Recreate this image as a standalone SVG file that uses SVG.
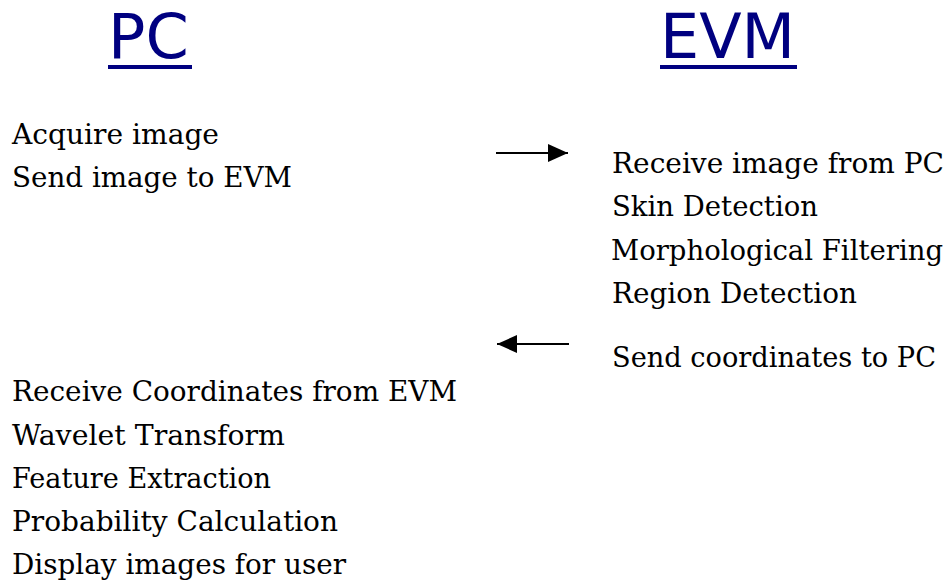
<svg xmlns="http://www.w3.org/2000/svg" width="951" height="582" viewBox="0 0 951 582">
  <style>
    .title { font-family: "DejaVu Sans", Verdana, sans-serif; font-size: 62px; fill: #000080; }
    .uline { fill: #000080; }
    .item { font-family: "DejaVu Serif", "Liberation Serif", serif; font-size: 28.5px; fill: #000000; }
    .conn { stroke: #000000; stroke-width: 2; fill: none; }
  </style>
  <defs>
    <marker id="arrow" viewBox="0 0 20 18" refX="20" refY="9" markerWidth="20" markerHeight="18" markerUnits="userSpaceOnUse" orient="auto">
      <path d="M0,0 L20,9 L0,18 Z" fill="#000000"/>
    </marker>
  </defs>
  <rect width="951" height="582" fill="#ffffff"/>

  <g id="pc-title">
    <text class="title" x="108" y="58">PC</text>
    <rect class="uline" x="108" y="65" width="84" height="4"/>
  </g>
  <g id="evm-title">
    <text class="title" x="660" y="58">EVM</text>
    <rect class="uline" x="660" y="65" width="137" height="4"/>
  </g>

  <g id="pc-send">
    <text class="item" x="12" y="144" textLength="207" lengthAdjust="spacingAndGlyphs">Acquire image</text>
    <text class="item" x="12" y="187" textLength="280" lengthAdjust="spacingAndGlyphs">Send image to EVM</text>
  </g>

  <g id="evm-process">
    <text class="item" x="612" y="173" textLength="332" lengthAdjust="spacingAndGlyphs">Receive image from PC</text>
    <text class="item" x="612" y="216" textLength="206" lengthAdjust="spacingAndGlyphs">Skin Detection</text>
    <text class="item" x="611" y="260" style="font-size:28px" textLength="332" lengthAdjust="spacingAndGlyphs">Morphological Filtering</text>
    <text class="item" x="612" y="303" textLength="245" lengthAdjust="spacingAndGlyphs">Region Detection</text>
    <text class="item" x="612" y="367" textLength="324" lengthAdjust="spacingAndGlyphs">Send coordinates to PC</text>
  </g>

  <g id="pc-process">
    <text class="item" x="12" y="401" textLength="445" lengthAdjust="spacingAndGlyphs">Receive Coordinates from EVM</text>
    <text class="item" x="12" y="445" textLength="273" lengthAdjust="spacingAndGlyphs">Wavelet Transform</text>
    <text class="item" x="12" y="488" textLength="259" lengthAdjust="spacingAndGlyphs">Feature Extraction</text>
    <text class="item" x="12" y="531" textLength="326" lengthAdjust="spacingAndGlyphs">Probability Calculation</text>
    <text class="item" x="12" y="574" textLength="334" lengthAdjust="spacingAndGlyphs">Display images for user</text>
  </g>

  <g id="connectors">
    <line class="conn" x1="496" y1="153" x2="568" y2="153" marker-end="url(#arrow)"/>
    <line class="conn" x1="569" y1="344" x2="497" y2="344" marker-end="url(#arrow)"/>
  </g>
</svg>
